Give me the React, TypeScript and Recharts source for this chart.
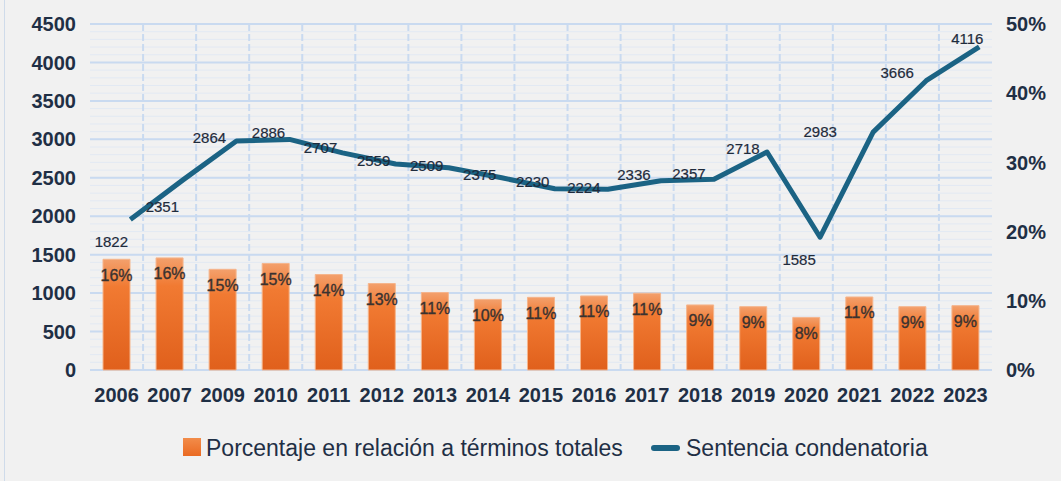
import React from 'react';
import { ComposedChart, Bar, Line, XAxis, YAxis, CartesianGrid, Legend, LabelList } from 'recharts';

// ---- data ----
const years = ['2006', '2007', '2009', '2010', '2011', '2012', '2013', '2014', '2015', '2016', '2017', '2018', '2019', '2020', '2021', '2022', '2023'];
const sentencias = [1822, 2351, 2864, 2886, 2707, 2559, 2509, 2375, 2230, 2224, 2336, 2357, 2718, 1585, 2983, 3666, 4116];
const porcentaje = [16.0, 16.2, 14.55, 15.4, 13.8, 12.5, 11.2, 10.2, 10.5, 10.7, 11.1, 9.4, 9.15, 7.6, 10.55, 9.15, 9.3];
const porcentajeEtiqueta = [16, 16, 15, 15, 14, 13, 11, 10, 11, 11, 11, 9, 9, 8, 11, 9, 9];
const leftTicks = [0, 500, 1000, 1500, 2000, 2500, 3000, 3500, 4000, 4500];
const minorTicks = Array.from({ length: 46 }, (_, i) => i * 100);
const rightTicks = [0, 10, 20, 30, 40, 50];
const seriesBarName = 'Porcentaje en relación a términos totales';
const seriesLineName = 'Sentencia condenatoria';

// label placement (style only): offset of each line label from its point
const lineLabelOffset: [number, number][] = [
  [-19, 22], [-21, 27], [-27, -4], [-21, -7], [-22, -5], [-22, -3], [-22, -2], [-22, -3], [-22, -7],
  [-24, -2], [-27, -6], [-25, -6], [-24, -4], [-21, 22], [-53, -1], [-29, -8], [-12, -8],
];

const data = years.map((y, i) => ({
  year: y,
  idx: i,
  pct: porcentaje[i],
  pctLabel: porcentajeEtiqueta[i],
  sent: sentencias[i],
}));

const boundaryTicks = Array.from({ length: 18 }, (_, i) => i - 0.5);
const innerBoundaryTicks = boundaryTicks.slice(1, -1);

const TEXT = '#1f2f45';
const LINE = '#1b6384';
const GRID = '#c9daf0';
const FONT = '"Liberation Sans", Arial, sans-serif';

const BarLabel = (props: any) => {
  const { x, y, width, index } = props;
  return (
    <text
      x={x + width / 2}
      y={y + 16}
      textAnchor="middle"
      dominantBaseline="central"
      fontFamily={FONT}
      fontSize={16}
      fill="#3a3230"
      stroke="#3a3230"
      strokeWidth={0.35}
    >
      {porcentajeEtiqueta[index]}%
    </text>
  );
};

const LineLabel = (props: any) => {
  const { x, y, index, value } = props;
  const [dx, dy] = lineLabelOffset[index] || [0, 0];
  return (
    <text
      x={x + dx}
      y={y + dy}
      textAnchor="middle"
      dominantBaseline="central"
      fontFamily={FONT}
      fontSize={15}
      fill="#1e2b3c"
      stroke="#1e2b3c"
      strokeWidth={0.2}
    >
      {value}
    </text>
  );
};

const LegendContent = () => (
  <div style={{ height: 30, position: 'relative', fontFamily: FONT, fontSize: 23, color: TEXT }}>
    <div style={{ position: 'absolute', left: 183, top: 5, width: 18, height: 18, background: 'linear-gradient(#f28c4a, #ea6a22)' }} />
    <div style={{ position: 'absolute', left: 206, top: 0, lineHeight: '30px', whiteSpace: 'nowrap' }}>{seriesBarName}</div>
    <div style={{ position: 'absolute', left: 651, top: 12, width: 29, height: 6, borderRadius: 3, background: LINE }} />
    <div style={{ position: 'absolute', left: 686, top: 0, lineHeight: '30px', whiteSpace: 'nowrap' }}>{seriesLineName}</div>
  </div>
);

const mapScale = (scale: any, t: number) => {
  if (typeof scale === 'function') return scale(t);
  if (scale && typeof scale.map === 'function') return scale.map(t);
  return undefined;
};

const verticalGen = (args: any) => {
  const scale = args?.xAxis?.scale;
  const pts = innerBoundaryTicks.map((t) => mapScale(scale, t)).filter((v) => typeof v === 'number' && isFinite(v));
  return pts as number[];
};

export default function App() {
  return (
    <div style={{ position: 'fixed', left: 0, top: 0, width: 1061, height: 481, background: '#f1f1f1', overflow: 'hidden' }}>
      <div style={{ position: 'absolute', left: 4, top: 0, width: 1, height: 481, background: '#cfdbea' }} />
      <ComposedChart width={1061} height={481} data={data} margin={{ top: 24, right: 0, bottom: 18, left: 0 }}>
        <defs>
          <linearGradient id="barGrad" x1="0" y1="0" x2="0" y2="1">
            <stop offset="0%" stopColor="#f3a06c" />
            <stop offset="25%" stopColor="#f17a32" />
            <stop offset="100%" stopColor="#e0601c" />
          </linearGradient>
        </defs>
        <XAxis xAxisId="cat" dataKey="year" type="category" height={63} axisLine={false} tickLine={false} tickMargin={12}
          tick={{ fill: TEXT, fontSize: 20, fontWeight: 'bold', fontFamily: FONT }} interval={0} />
        <XAxis xAxisId="tickX" dataKey="idx" type="number" domain={[-0.5, 16.5]} ticks={boundaryTicks} height={0}
          axisLine={{ stroke: GRID, strokeWidth: 2 }} tickLine={{ stroke: GRID, strokeWidth: 2 }} tickSize={9} tick={false} interval={0} />
        <XAxis xAxisId="gridX" dataKey="idx" type="number" domain={[-0.5, 16.5]} ticks={innerBoundaryTicks} interval={0} hide />
        <XAxis xAxisId="lineX" dataKey="idx" type="number" domain={[-0.76, 16.24]} hide />
        <YAxis yAxisId="left" orientation="left" width={90} domain={[0, 4500]} ticks={leftTicks} axisLine={false} tickLine={false}
          tickMargin={8} tick={{ fill: TEXT, fontSize: 20, fontWeight: 'bold', fontFamily: FONT }} interval={0} />
        <YAxis yAxisId="right" orientation="right" width={69} domain={[0, 50]} ticks={rightTicks} axisLine={false} tickLine={false}
          tickMargin={8} tickFormatter={(v: number) => `${v}%`} tick={{ fill: TEXT, fontSize: 20, fontWeight: 'bold', fontFamily: FONT }} interval={0} />
        <YAxis yAxisId="minor" orientation="left" domain={[0, 4500]} ticks={minorTicks} interval={0} hide />
        <YAxis yAxisId="lineY" orientation="left" domain={[-180, 4420]} hide />
        <CartesianGrid xAxisId="gridX" yAxisId="minor" vertical={false} stroke="#e2e9f3" strokeWidth={1} />
        <CartesianGrid xAxisId="gridX" yAxisId="left" vertical={false} stroke={GRID} strokeWidth={2} />
        <CartesianGrid xAxisId="gridX" yAxisId="left" horizontal={false} stroke={GRID} strokeWidth={2} strokeDasharray="7 3"
          verticalCoordinatesGenerator={verticalGen} />
        <Legend verticalAlign="bottom" content={<LegendContent />} wrapperStyle={{ left: 0, width: 1061, padding: 0 }} />
        {/* invisible series that bind the helper axes to the data */}
        <Line xAxisId="gridX" yAxisId="left" dataKey="sent" stroke="none" dot={false} activeDot={false} legendType="none" isAnimationActive={false} />
        <Line xAxisId="tickX" yAxisId="minor" dataKey="sent" stroke="none" dot={false} activeDot={false} legendType="none" isAnimationActive={false} />
        <Bar xAxisId="cat" yAxisId="right" dataKey="pct" name={seriesBarName} barSize={27} fill="url(#barGrad)"
          stroke="#f5b58c" strokeWidth={1} isAnimationActive={false}>
          <LabelList dataKey="pctLabel" content={<BarLabel />} />
        </Bar>
        <Line xAxisId="lineX" yAxisId="lineY" dataKey="sent" name={seriesLineName} stroke={LINE} strokeWidth={5}
          dot={false} activeDot={false} isAnimationActive={false} strokeLinejoin="round" strokeLinecap="butt">
          <LabelList dataKey="sent" content={<LineLabel />} />
        </Line>
      </ComposedChart>
    </div>
  );
}
